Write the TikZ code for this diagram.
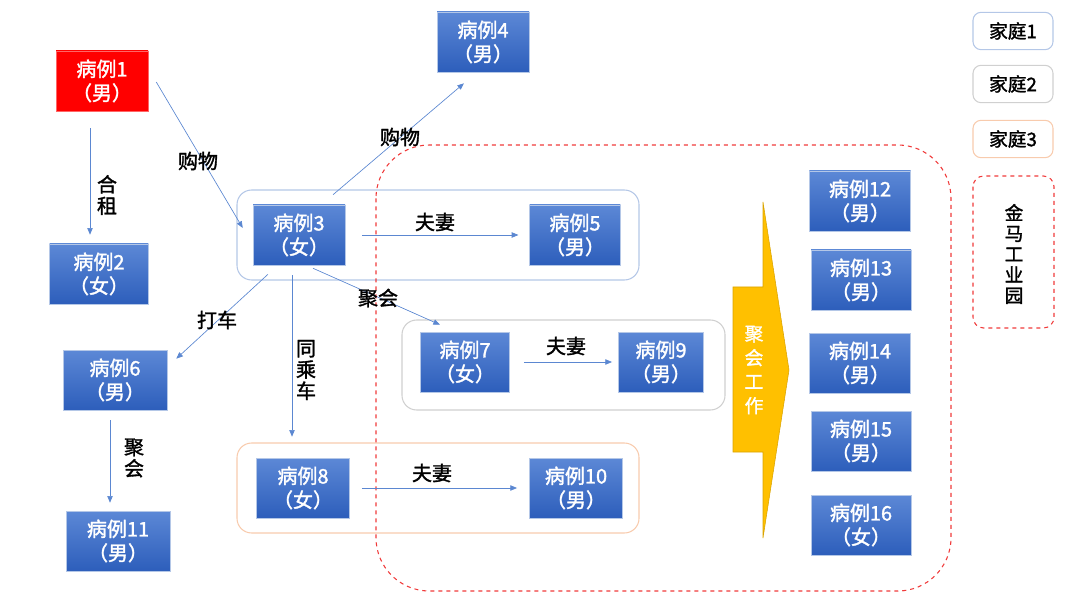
\documentclass[tikz,border=0pt]{standalone}
\usepackage{fontspec}
\setmainfont{Noto Sans CJK SC}[FakeBold=1.6]
\usepackage{xcolor}
\usetikzlibrary{arrows.meta, calc, positioning}
\definecolor{linkblue}{HTML}{5B87D1}
\definecolor{casetop}{HTML}{5C88D6}
\definecolor{casebot}{HTML}{2D5EBB}
\definecolor{famA}{HTML}{B4C7E7}
\definecolor{famB}{HTML}{D0D0D0}
\definecolor{famC}{HTML}{F8CBAD}
\definecolor{parkred}{HTML}{F03A3A}
\definecolor{gold}{HTML}{FFC000}

\begin{document}
\begin{tikzpicture}[x=0.75pt, y=-0.75pt,
  case/.style={draw=famA, line width=0.4pt, top color=casetop, bottom color=casebot,
    text=white, align=center, minimum width=69pt, minimum height=45pt, inner sep=0pt,
    font=\fontsize{15}{18}\selectfont},
  link/.style={draw=linkblue, line width=0.5pt, -{Triangle[length=5pt,width=4pt]}},
  tag/.style={align=center, inner sep=0pt, font=\fontsize{15}{17}\selectfont},
  family/.style={rounded corners=11pt, line width=0.8pt},
  legend/.style={draw, rounded corners=6pt, line width=0.8pt, minimum width=60pt,
    minimum height=28pt, inner sep=0pt, font=\fontsize{14}{17}\selectfont}]
        \useasboundingbox (0,0) rectangle (1080,609);

        % families and the industrial park
        \draw[family, famA] (237,190) rectangle (639,280);
        \draw[family, famB] (402,320) rectangle (725,410);
        \draw[family, famC] (237,443) rectangle (639,533);
        \draw[parkred, dashed, line width=0.8pt, rounded corners=40pt] (376,145) rectangle (951,591);

        % cases
        \node[case, fill=red, top color=red, bottom color=red, draw=red!60] (c1) at (102,81) {病例1\\（男）};
        \node[case] (c4) at (483,42) {病例4\\（男）};
        \node[case, minimum width=74pt] (c2) at (99,274) {病例2\\（女）};
        \node[case] (c3) at (299,235) {病例3\\（女）};
        \node[case, minimum width=68pt] (c5) at (575,235) {病例5\\（男）};
        \node[case, minimum width=78pt] (c6) at (115,380) {病例6\\（男）};
        \node[case, minimum width=67pt] (c7) at (465,362) {病例7\\（女）};
        \node[case, minimum width=64pt] (c9) at (661,362) {病例9\\（男）};
        \node[case, minimum width=70pt] (c8) at (303,488) {病例8\\（女）};
        \node[case, minimum width=70pt] (c10) at (576,488) {病例10\\（男）};
        \node[case, minimum width=78pt] (c11) at (118,541) {病例11\\（男）};
        \node[case, minimum width=76pt] (c12) at (860,201) {病例12\\（男）};
        \node[case, minimum width=75pt] (c13) at (861,280) {病例13\\（男）};
        \node[case, minimum width=76pt] (c14) at (860,363) {病例14\\（男）};
        \node[case, minimum width=75pt] (c15) at (861,441) {病例15\\（男）};
        \node[case, minimum width=75pt] (c16) at (861,525) {病例16\\（女）};

        % contacts
        \draw[link] ($(c1.east)+(8,1)$) -- ($(c3.west)+(-10,-7)$);
        \draw[link] ($(c1.south)+(-12,17)$) -- ($(c2.north)+(-9,-9)$);
        \draw[link] ($(c3.north)+(34,-10)$) -- ($(c4.south)+(-19,11)$);
        \draw[link] ($(c3.east)+(17,0)$) -- ($(c5.west)+(-11,0)$);
        \draw[link] ($(c3.south)+(-31,9)$) -- ($(c6.north east)+(9,9)$);
        \draw[link] ($(c3.south)+(-7,10)$) -- ($(c8.north)+(-11,-21)$);
        \draw[link] ($(c3.south)+(14,3)$) -- ($(c7.north)+(-25,-7)$);
        \draw[link] ($(c7.east)+(14,0)$) -- ($(c9.west)+(-6,0)$);
        \draw[link] ($(c8.east)+(12,0)$) -- ($(c10.west)+(-12,0)$);
        \draw[link] ($(c6.south)+(-5,10)$) -- ($(c11.north)+(-8,-8)$);

        \node[tag] (t13) at (198,161) {购物};
        \node[tag, font=\fontsize{15}{16}\selectfont] (t12) at (107,195) {合\\租};
        \node[tag] (t34) at (400,137) {购物};
        \node[tag] (t35) at (435,222) {夫妻};
        \node[tag] (t36) at (217,320) {打车};
        \node[tag, font=\fontsize{15}{16}\selectfont] (t38) at (306,370) {同\\乘\\车};
        \node[tag] (t37) at (378,298) {聚会};
        \node[tag] (t79) at (566,346) {夫妻};
        \node[tag] (t810) at (432,473) {夫妻};
        \node[tag, font=\fontsize{15}{16}\selectfont] (t611) at (134,458) {聚\\会};

        % gathering at work
        \draw[fill=gold, draw=gold!85!black, line width=0.4pt]
            (733,287) -- (763,287) -- (763,202) -- (789,370) -- (763,538) -- (763,452) -- (733,452) -- cycle;
        \node[tag, text=white, font=\fontsize{14}{18}\selectfont] (work) at (754,370) {聚\\会\\工\\作};

        % legend
        \node[legend, draw=famA] (k1) at (1013,31) {家庭1};
        \node[legend, draw=famB] (k2) at (1013,84) {家庭2};
        \node[legend, draw=famC] (k3) at (1013,139) {家庭3};
        \draw[parkred, dashed, line width=0.8pt, rounded corners=8pt] (973,176) rectangle (1054,328);
        \node[tag, font=\fontsize{14}{15.5}\selectfont] (park) at (1014,254) {金\\马\\工\\业\\园};
\end{tikzpicture}
\end{document}
